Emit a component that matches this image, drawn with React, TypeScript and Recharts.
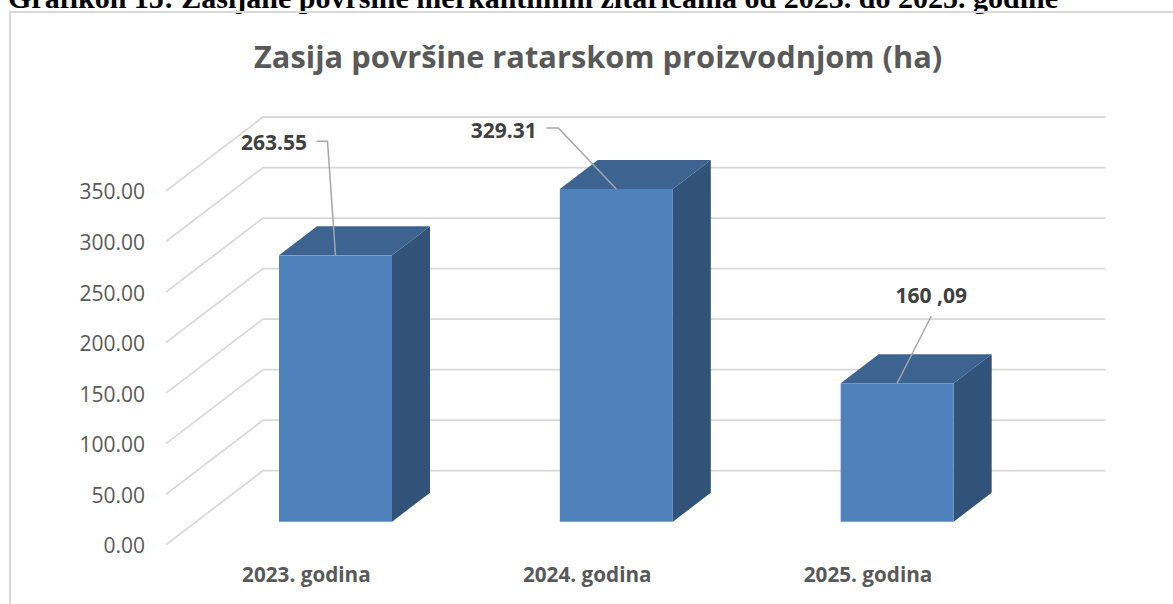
import React from "react";
import { BarChart, Bar, XAxis, YAxis, CartesianGrid, LabelList } from "recharts";

const categories = ["2023. godina", "2024. godina", "2025. godina"];
const areaValues = [263.55, 329.31, 137];
const valueLabels = ["263.55", "329.31", "160 ,09"];
const yTicks = [0, 50, 100, 150, 200, 250, 300, 350];

const heading = "Grafikon 15: Zasijane površine merkantilnim žitaricama od 2023. do 2025. godine";
const chartTitle = "Zasija površine ratarskom proizvodnjom (ha)";

const rows = categories.map((name, i) => ({ name, value: areaValues[i], label: valueLabels[i] }));

const FONT = "'Open Sans', sans-serif";
const WALL_DX = 97;
const WALL_DY = 74;
const FLOOR_DX = 29;
const FLOOR_DY = 23;
const DEPTH_DX = 38;
const DEPTH_DY = 29;

// leader-line bends and text anchors, relative to the middle of each bar's front top edge
const leaders = [
  { pts: [[-19, -114], [-8, -114], [0, 0]], text: [-61.5, -113] },
  { pts: [[-70, -61], [-58, -61], [0, 0]], text: [-112.5, -59] },
  { pts: [[34, -67], [0, 0]], text: [34, -88] },
];

function Bar3D(props: any) {
  const { x, y, width, height } = props;
  const l = x + FLOOR_DX;
  const r = l + width;
  const t = y - FLOOR_DY;
  const b = t + height;
  return (
    <g>
      <polygon points={`${r},${t} ${r + DEPTH_DX},${t - DEPTH_DY} ${r + DEPTH_DX},${b - DEPTH_DY} ${r},${b}`} fill="#325379" />
      <polygon points={`${l},${t} ${l + DEPTH_DX},${t - DEPTH_DY} ${r + DEPTH_DX},${t - DEPTH_DY} ${r},${t}`} fill="#3d6390" />
      <rect x={l} y={t} width={width} height={height} fill="#4f81bd" />
    </g>
  );
}

function Leader(props: any) {
  const { x, y, width, index, value } = props;
  const cx = x + FLOOR_DX + width / 2;
  const cy = y - FLOOR_DY;
  const d = leaders[index];
  return (
    <g>
      <polyline
        points={d.pts.map(([a, b]) => `${cx + a},${cy + b}`).join(" ")}
        fill="none"
        stroke="#a6a6a6"
        strokeWidth={1.5}
      />
      <text
        x={cx + d.text[0]}
        y={cy + d.text[1]}
        textAnchor="middle"
        dominantBaseline="central"
        fontFamily={FONT}
        fontWeight={700}
        fontSize={21}
        fill="#404040"
      >
        {value}
      </text>
    </g>
  );
}

function GridLine(props: any) {
  const { x1, y1, x2 } = props;
  const bx = x1 + WALL_DX;
  const by = y1 - WALL_DY;
  return (
    <polyline
      key={`${y1}`}
      points={`${x1},${y1} ${bx},${by} ${x2 + WALL_DX},${by}`}
      fill="none"
      stroke="#d9d9d9"
      strokeWidth={1.8}
    />
  );
}

export default function App() {
  return (
    <div style={{ position: "absolute", left: 0, top: 0, width: 1173, height: 604, overflow: "hidden", background: "#fff" }}>
      <div
        style={{
          position: "absolute",
          left: 8,
          top: -19,
          whiteSpace: "nowrap",
          fontFamily: "'Liberation Serif', serif",
          fontWeight: 700,
          fontSize: 30,
          color: "#000",
        }}
      >
        {heading}
      </div>
      <div
        style={{
          position: "absolute",
          left: 9,
          top: 11,
          width: 1300,
          height: 800,
          border: "2px solid #d9d9d9",
        }}
      />
      <div
        style={{
          position: "absolute",
          left: 254,
          top: 35,
          whiteSpace: "nowrap",
          fontFamily: FONT,
          fontWeight: 700,
          fontSize: 30.8,
          color: "#595959",
        }}
      >
        {chartTitle}
      </div>
      <div style={{ position: "absolute", left: 0, top: 0 }}>
        <BarChart
          width={1173}
          height={604}
          data={rows}
          margin={{ top: 191, left: 100, right: 164.5, bottom: 19.3 }}
          barSize={113}
          style={{ overflow: "visible" }}
        >
          <CartesianGrid vertical={false} horizontal={GridLine as any} />
          <XAxis
            dataKey="name"
            axisLine={false}
            tickLine={false}
            tickSize={0}
            tickMargin={23}
            height={40}
            tick={{ fontFamily: FONT, fontWeight: 700, fontSize: 20.7, fill: "#595959" }}
          />
          <YAxis
            width={66}
            domain={[0, 350]}
            ticks={yTicks}
            axisLine={false}
            tickLine={false}
            tickSize={0}
            tickMargin={21}
            tickFormatter={(v: number) => v.toFixed(2)}
            tick={{ fontFamily: FONT, fontSize: 21, fill: "#595959", dy: 1 }}
          />
          <Bar dataKey="value" isAnimationActive={false} shape={<Bar3D />}>
            <LabelList dataKey="label" content={<Leader />} />
          </Bar>
        </BarChart>
      </div>
    </div>
  );
}
